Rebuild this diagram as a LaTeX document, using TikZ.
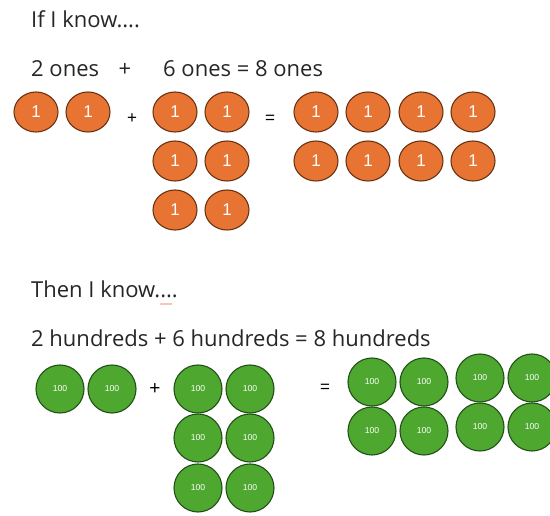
\documentclass[tikz,border=0pt]{standalone}
\usepackage{fontspec}
\setmainfont{Open Sans}
\newfontfamily\digitfont{Liberation Sans}
\usetikzlibrary{shapes.geometric}
\definecolor{ofill}{HTML}{E87434}
\definecolor{oedge}{HTML}{6A3413}
\definecolor{gfill}{HTML}{4EA72E}
\definecolor{gedge}{HTML}{23501A}
\definecolor{pinkdash}{HTML}{F6C7B8}
\tikzset{
  title/.style={anchor=base west, inner sep=0pt, font=\fontsize{22}{22}\selectfont, text=black!85},
  sym/.style={inner sep=0pt, font=\digitfont\fontsize{17}{17}\selectfont},
  onecoin/.style={ellipse, draw=oedge, line width=1.1pt, fill=ofill, minimum width=44pt, minimum height=40pt, inner sep=0pt, text=white, font=\digitfont\fontsize{17}{17}\selectfont},
  hundcoin/.style={circle, draw=gedge, line width=1.1pt, fill=gfill, minimum size=48pt, inner sep=0pt, text=white, font=\digitfont\fontsize{8.6}{8.6}\selectfont},
}
\begin{document}
\begin{tikzpicture}[x=1pt,y=-1pt]
\useasboundingbox (0,0) rectangle (550,516);
% titles
\node[title] (t1) at (31,28) {If I know....};
\node[title] (t2) at (31,77) {2 ones};
\node[title, anchor=base] (t3) at (125,77) {+};
\node[title] (t4) at (163,77) {6 ones = 8 ones};
\node[title] (t5) at (31,298) {Then I know....};
\node[title] (t6) at (31,347) {2 hundreds + 6 hundreds = 8 hundreds};
\draw[pinkdash, line width=1.6pt] (160,304) -- (172,304);
% ones
\node[onecoin] (oa1) at (36,112) {1};
\node[onecoin] (oa2) at (88,112) {1};
\node[sym] (op) at (132,119) {+};
\foreach \r/\y in {1/112,2/161,3/210}{
  \node[onecoin] (ob\r a) at (175,\y) {1};
  \node[onecoin] (ob\r b) at (227,\y) {1};
}
\node[sym] (oe) at (270,119) {=};
\foreach \r/\y in {1/112,2/161}{
  \node[onecoin] (oc\r a) at (316,\y) {1};
  \node[onecoin] (oc\r b) at (368,\y) {1};
  \node[onecoin] (oc\r c) at (421,\y) {1};
  \node[onecoin] (oc\r d) at (473,\y) {1};
}
% hundreds
\node[hundcoin] (ha1) at (60,389) {100};
\node[hundcoin] (ha2) at (112,389) {100};
\node[sym, font=\digitfont\fontsize{19}{19}\selectfont] (hp) at (155,389) {+};
\foreach \r/\y in {1/389,2/438,3/488}{
  \node[hundcoin] (hb\r a) at (198,\y) {100};
  \node[hundcoin] (hb\r b) at (250,\y) {100};
}
\node[sym] (he) at (325,388) {=};
\foreach \r/\y/\z in {1/382/378,2/431/427}{
  \node[hundcoin] (hc\r a) at (372,\y) {100};
  \node[hundcoin] (hc\r b) at (424,\y) {100};
  \node[hundcoin] (hc\r c) at (480,\z) {100};
  \node[hundcoin] (hc\r d) at (532,\z) {100};
}
\end{tikzpicture}
\end{document}
